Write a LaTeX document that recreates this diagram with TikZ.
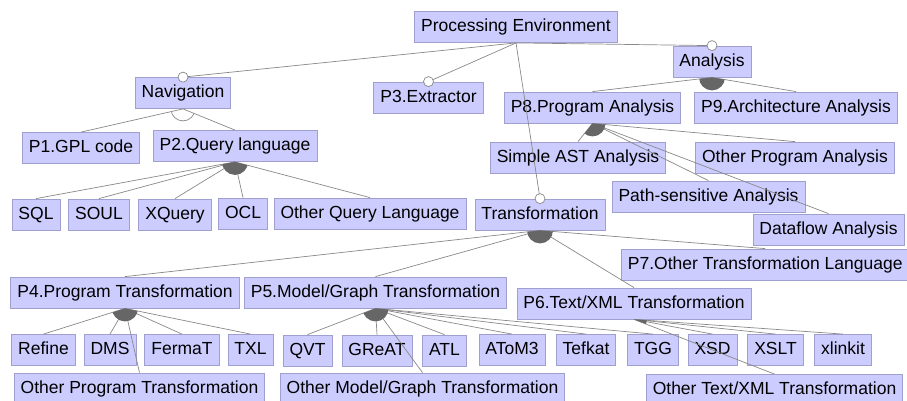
\documentclass[tikz,border=0pt]{standalone}
\usepackage{fontspec}
\setmainfont{Liberation Sans}
\usepackage{xcolor}
\usetikzlibrary{calc}

\definecolor{featfill}{RGB}{204,204,255}
\definecolor{featdraw}{RGB}{160,160,208}
\definecolor{linegray}{RGB}{136,136,136}
\definecolor{arcgray}{RGB}{102,102,102}

% filled arc of an or-group: parent, leftmost child, rightmost child
\newcommand{\orarc}[3]{%
	\begin{scope}
		\clip (#1.south) circle (13pt);
		\fill[arcgray] (#1.south) -- ($(#1.south)!200pt!(#2.north)$) -- ($(#1.south)!200pt!(#3.north)$) -- cycle;
	\end{scope}}
% open arc of an alternative-group
\newcommand{\altarc}[3]{%
	\begin{scope}
		\clip (#1.south) -- ($(#1.south)!200pt!(#2.north)$) -- ($(#1.south)!200pt!(#3.north)$) -- cycle;
		\draw[linegray, line width=0.7pt] (#1.south) circle (12pt);
	\end{scope}}

\begin{document}
\begin{tikzpicture}[
	  x=1pt, y=-1pt,
	  %style for connecting lines
	  conn/.style={draw=linegray, line width=0.7pt},
	  % style for feature boxes
	  feat/.style={rectangle, fill=featfill, draw=featdraw, line width=0.8pt,
	    font=\fontsize{17.5}{20}\selectfont, inner xsep=6.5pt, inner ysep=7pt,
	    text height=13pt, text depth=4pt},
	  % style for optional marks
	  opt/.style={fill=white, draw=linegray, line width=0.7pt}]

      \useasboundingbox (0,0) rectangle (907,400);

      % root and first level
      \node[feat](pe) at (516,27) {Processing Environment};
      \node[feat](nav) at (183,93) {Navigation};
      \node[feat](ext) at (428.5,97.5) {P3.Extractor};
      \node[feat](ana) at (712,61.5) {Analysis};
      \node[feat](trf) at (540,214.5) {Transformation};

      % navigation
      \node[feat](gpl) at (81,148) {P1.GPL code};
      \node[feat](ql) at (235,146) {P2.Query language};
      \node[feat](sql) at (36,214.5) {SQL};
      \node[feat](soul) at (99,214.5) {SOUL};
      \node[feat](xq) at (175,214.5) {XQuery};
      \node[feat](ocl) at (243,213.5) {OCL};
      \node[feat](oql) at (370,213.5) {Other Query Language};

      % analysis
      \node[feat](pa) at (592.5,107.5) {P8.Program Analysis};
      \node[feat](aa) at (796,107.5) {P9.Architecture Analysis};
      \node[feat](ast) at (578,157.5) {Simple AST Analysis};
      \node[feat](opa) at (795,157.5) {Other Program Analysis};
      \node[feat](psa) at (708.5,196.5) {Path-sensitive Analysis};
      \node[feat](dfa) at (828.5,229.5) {Dataflow Analysis};

      % transformation
      \node[feat, anchor=west](otl) at (621,264.5) {P7.Other Transformation Language};
      \node[feat](pt) at (125,292.5) {P4.Program Transformation};
      \node[feat](mgt) at (375.5,292.5) {P5.Model/Graph Transformation};
      \node[feat](xt) at (634,303.5) {P6.Text/XML Transformation};

      \node[feat](refine) at (43.5,350) {Refine};
      \node[feat](dms) at (110,350) {DMS};
      \node[feat](fermat) at (182,350) {FermaT};
      \node[feat](txl) at (250.5,350) {TXL};
      \node[feat](opt) at (139.5,388.5) {Other Program Transformation};

      \node[feat](qvt) at (307.5,350.5) {QVT};
      \node[feat](great) at (377,350.5) {GReAT};
      \node[feat](atl) at (444.5,350.5) {ATL};
      \node[feat](atom) at (512,350) {AToM3};
      \node[feat](tefkat) at (586,350) {Tefkat};
      \node[feat](tgg) at (653,350) {TGG};
      \node[feat](omg) at (422.5,388.5) {Other Model/Graph Transformation};

      \node[feat](xsd) at (712.5,350) {XSD};
      \node[feat](xslt) at (775.5,350) {XSLT};
      \node[feat](xlinkit) at (843,350) {xlinkit};
      \node[feat](otx) at (774.5,390) {Other Text/XML Transformation};

      % connectors
      \foreach \c in {nav,ext,ana,trf} \draw[conn] (pe.south) -- (\c.north);
      \foreach \c in {gpl,ql} \draw[conn] (nav.south) -- (\c.north);
      \foreach \c in {sql,soul,xq,ocl,oql} \draw[conn] (ql.south) -- (\c.north);
      \foreach \c in {pa,aa} \draw[conn] (ana.south) -- (\c.north);
      \foreach \c in {ast,opa,psa,dfa} \draw[conn] (pa.south) -- (\c.north);
      \foreach \c in {pt,mgt,xt,otl} \draw[conn] (trf.south) -- (\c.north);
      \foreach \c in {refine,dms,fermat,txl,opt} \draw[conn] (pt.south) -- (\c.north);
      \foreach \c in {qvt,great,atl,atom,tefkat,tgg,omg} \draw[conn] (mgt.south) -- (\c.north);
      \foreach \c in {xsd,xslt,xlinkit,otx} \draw[conn] (xt.south) -- (\c.north);

      % group arcs
      \altarc{nav}{gpl}{ql}
      \orarc{ql}{sql}{oql}
      \orarc{ana}{pa}{aa}
      \orarc{pa}{ast}{opa}
      \orarc{trf}{pt}{otl}
      \orarc{pt}{refine}{txl}
      \orarc{mgt}{qvt}{tgg}
      \orarc{xt}{otx}{xlinkit}

      % optional marks
      \foreach \c in {nav,ext,ana,trf} \draw[opt] (\c.north) circle (5pt);

\end{tikzpicture}
\end{document}
